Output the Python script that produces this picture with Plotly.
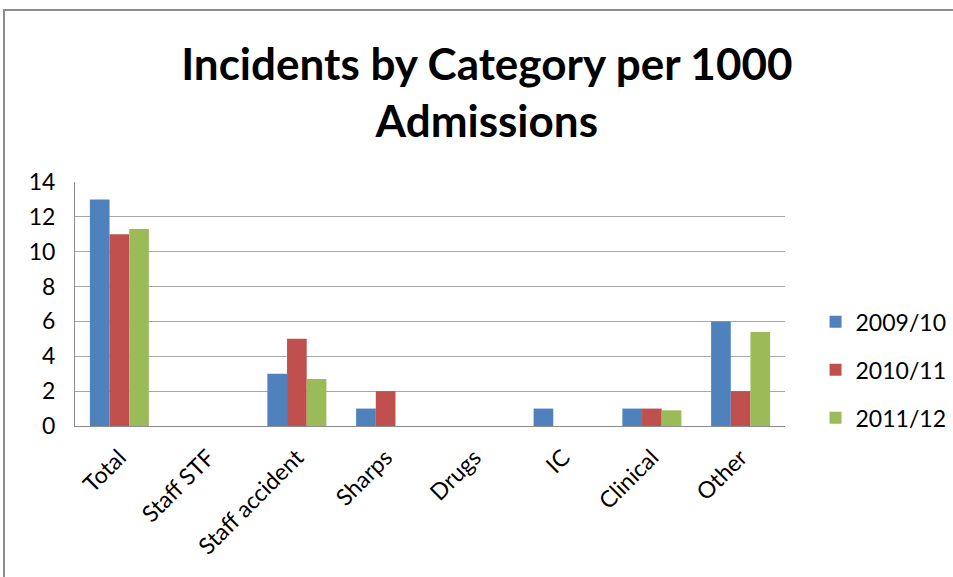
import plotly.graph_objects as go

categories = ["Total", "Staff STF", "Staff accident", "Sharps", "Drugs", "IC", "Clinical", "Other"]
series_names = ["2009/10", "2010/11", "2011/12"]
values_0910 = [13, 0, 3, 1, 0, 1, 1, 6]
values_1011 = [11, 0, 5, 2, 0, 0, 1, 2]
values_1112 = [11.3, 0, 2.7, 0, 0, 0, 0.9, 5.4]
colors = ["#4F81BD", "#C0504D", "#9BBB59"]
y_ticks = [0, 2, 4, 6, 8, 10, 12, 14]

FONT = "Lato, Carlito, Calibri, sans-serif"

fig = go.Figure()
for name, vals, col in zip(series_names, [values_0910, values_1011, values_1112], colors):
    fig.add_trace(go.Bar(
        x=categories, y=vals, name=name, legendgroup=name,
        marker=dict(color=col, line=dict(width=0)),
    ))

fig.update_layout(
    width=953, height=577,
    paper_bgcolor="white", plot_bgcolor="white",
    margin=dict(l=75, r=168, t=182, b=151, autoexpand=False),
    barmode="group", bargap=0.335, bargroupgap=0,
    font=dict(family=FONT, size=23, color="#000000"),
    title=dict(
        text="<b>Incidents by Category per 1000<br>Admissions</b>",
        x=0.58, xanchor="center", xref="paper",
        y=1 - 80 / 577, yanchor="middle", yref="container",
        font=dict(family=FONT, size=44, color="#000000"),
    ),
    showlegend=True,
    legend=dict(
        x=1.043, xanchor="left", y=0.23, yanchor="middle",
        font=dict(family=FONT, size=23, color="#000000"),
        traceorder="grouped", tracegroupgap=15,
        bgcolor="rgba(0,0,0,0)",
    ),
    xaxis=dict(
        tickangle=-45, showline=True, linecolor="#8C8C8C", linewidth=1,
        showgrid=False, ticks="", tickfont=dict(size=23),
        ticklabelstandoff=8,
    ),
    yaxis=dict(
        range=[0, 14], tickvals=y_ticks, showline=True, linecolor="#8C8C8C",
        linewidth=1, showgrid=True, gridcolor="#A6A6A6", gridwidth=1,
        ticks="", tickfont=dict(size=23), zeroline=False,
        ticklabelstandoff=14,
    ),
)

# chart-area frame
fig.add_shape(type="rect", xref="paper", yref="paper",
              x0=-0.1, x1=1.5, y0=-1.0, y1=1.705,
              line=dict(color="#8C8C8C", width=2), layer="below")

fig.write_html("out.html")
